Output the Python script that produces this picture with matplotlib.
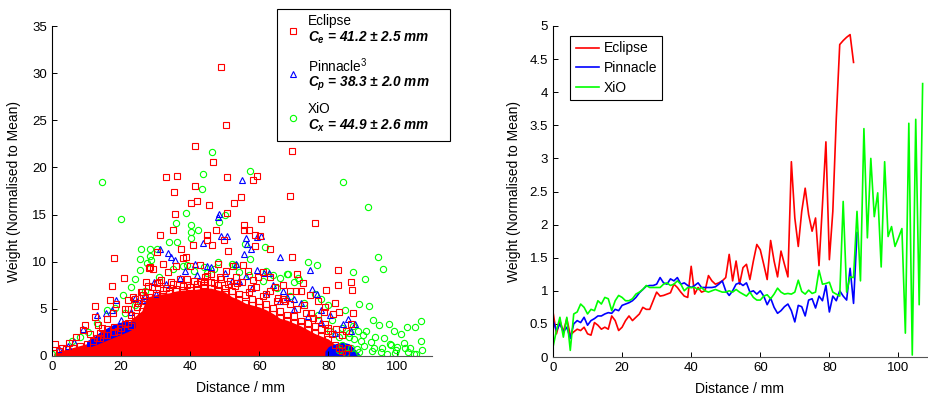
import matplotlib
matplotlib.use("Agg")
import matplotlib.pyplot as plt
from matplotlib.lines import Line2D
from matplotlib.patches import Rectangle

plt.rcParams["font.family"] = ["Liberation Sans", "DejaVu Sans"]
plt.rcParams["mathtext.fontset"] = "custom"
plt.rcParams["mathtext.rm"] = "Liberation Sans"
plt.rcParams["mathtext.it"] = "Liberation Sans:italic:bold"
plt.rcParams["mathtext.bf"] = "Liberation Sans:bold"

# ---------------- left panel: scatter of weights ----------------
# solid red core (upper edge of the dense Eclipse cloud)
red_core_x = [0.5, 2, 4, 6, 8, 10, 12, 14, 16, 18, 20, 22, 24, 26, 27, 28, 30, 32,
              34, 36, 38, 40, 42, 44, 46, 48, 50, 52, 54, 56, 58, 60, 62, 64, 66,
              68, 70, 72, 74, 76, 78, 80, 82, 83, 84, 85]
red_core_top = [0.3, 0.5, 0.7, 0.9, 1.1, 1.3, 1.6, 1.9, 2.2, 2.5, 3.0, 3.5, 4.2, 4.8,
                5.8, 6.3, 6.5, 6.6, 6.7, 6.9, 7.0, 7.0, 7.1, 7.2, 7.2, 7.0, 6.8, 6.3,
                6.0, 5.6, 5.4, 5.2, 4.9, 4.5, 4.0, 3.8, 3.5, 3.2, 2.8, 2.4, 2.1, 1.8,
                1.2, 0.9, 0.5, 0.2]

# dense Pinnacle patches
blue_left_x = [10, 12, 14, 16, 18, 20, 22, 24]
blue_left_lo = [0.9, 1.1, 1.4, 1.7, 2.0, 2.3, 2.6, 3.0]
blue_left_hi = [1.6, 2.0, 2.6, 3.0, 3.4, 3.6, 3.7, 3.6]
blue_right_x = [79, 80, 82, 84, 86, 87, 88, 89]
blue_right_hi = [0.5, 1.0, 1.3, 1.5, 1.3, 1.0, 0.6, 0.2]

red_x = [49.0, 50.5, 41.3, 69.4, 46.7, 33.1, 36.1, 50.7, 59.3, 58.2, 41.5, 35.3, 69.0,
         54.8, 42.1, 40.3, 52.8, 45.4, 35.7, 50.8, 76.0, 60.5, 55.6, 55.7, 35.1, 47.4,
         57.1, 31.2, 44.9, 58.9, 60.1, 44.9, 46.4, 49.7, 58.9, 63.0, 40.7, 37.3, 17.9,
         69.5, 51.0, 38.9, 30.3, 28.3, 29.2, 82.9, 86.6, 86.9, 82.7, 79.4, 71.0, 72.7,
         20.8, 17.4, 12.4, 16.8, 9.0, 0.9, 5.0, 81.9, 87.1, 78.8,
         28.2, 30.3, 32.2, 33.6, 36.0, 37.8, 39.9, 42.8, 44.2, 48.1, 48.6, 50.5, 52.4,
         53.4, 55.3, 56.7, 58.1, 59.6, 61.0, 63.0, 64.5, 66.8, 68.8, 70.7, 72.2, 74.6,
         77.0, 78.9, 81.3, 83.2, 82.3, 85.2, 86.6, 85.6,
         9.5, 12.4, 13.4, 15.8, 17.7, 18.6, 21.1, 22.1, 23.5, 24.5, 26.4, 27.8, 25.9,
         27.3, 7.0, 3.0, 11.0, 14.5, 65.5, 67.5, 73.5, 75.5, 80.0, 84.0, 62.0, 57.5,
         53.5, 44.0, 39.0, 34.5, 31.5, 46.0, 51.5,
         22, 24, 26, 29, 31, 33, 35, 37, 39, 41, 43, 45, 47, 49, 51, 53, 55, 57, 59,
         61, 63, 65, 67, 69, 71, 73, 75, 77, 79,
         23, 25, 27, 30, 32, 34, 36, 38, 40, 42, 44, 46, 48, 50, 52, 54, 56, 58, 60,
         62, 64, 66, 68, 70, 72, 74, 76, 78, 80, 81,
         14, 16, 18, 19, 21, 23, 13, 15]
red_y = [30.6, 24.5, 22.3, 21.7, 20.6, 19.0, 19.1, 19.0, 19.1, 18.7, 18.0, 17.4, 17.0,
         16.9, 16.4, 16.2, 16.2, 16.0, 15.1, 15.2, 14.1, 14.5, 13.9, 13.4, 13.4, 13.4,
         13.4, 12.8, 12.8, 12.8, 12.7, 12.3, 11.8, 12.3, 11.7, 11.3, 11.8, 11.3, 10.4,
         10.5, 11.1, 10.5, 11.0, 9.4, 9.2, 9.1, 7.8, 7.0, 7.5, 7.0, 8.7, 7.7,
         8.3, 7.4, 5.3, 5.9, 2.8, 1.3, 1.4, 5.6, 4.6, 4.7,
         9.3, 7.7, 9.8, 8.9, 9.5, 10.4, 9.5, 9.7, 8.4, 9.8, 8.4, 9.0, 9.5,
         8.4, 9.7, 9.0, 8.1, 8.4, 8.9, 8.4, 7.3, 7.5, 6.9, 6.9, 6.9, 6.5,
         5.8, 5.2, 4.5, 4.7, 2.9, 2.7, 3.4, 0.8,
         3.3, 4.1, 3.3, 3.9, 4.6, 5.5, 5.0, 5.9, 6.3, 5.2, 6.5, 7.4, 6.8,
         7.9, 2.0, 0.9, 2.3, 3.0, 6.2, 5.8, 4.6, 4.0, 3.0, 2.2, 6.6, 7.2,
         7.7, 8.0, 8.2, 7.9, 8.1, 8.7, 8.0,
         5.0, 6.0, 6.8, 7.3, 7.9, 7.2, 7.6, 8.2, 7.5, 8.0, 7.8, 8.5, 7.7, 8.2, 7.6,
         7.4, 7.9, 6.8, 7.3, 6.4, 6.9, 5.8, 6.0, 5.5, 5.0, 5.4, 4.6, 3.8, 3.4,
         4.4, 5.6, 6.1, 6.7, 7.0, 6.9, 7.1, 7.4, 7.3, 7.6, 7.5, 7.9, 7.5, 7.2, 6.9,
         6.6, 6.5, 6.0, 5.8, 5.5, 5.1, 4.8, 4.4, 4.2, 3.7, 3.5, 3.2, 2.9, 2.6, 2.3,
         2.4, 2.9, 3.1, 2.6, 3.4, 3.2, 1.9, 2.2]

blue_x = [55.0, 48.4, 48.1, 48.8, 50.8, 56.3, 59.3, 60.6, 43.7, 31.2, 33.6, 34.4, 35.5,
          56.5, 57.5, 65.9, 41.3, 59.2, 61.4, 62.8, 74.6, 53.4, 55.6, 56.1, 66.9, 75.3,
          76.7, 85.6, 87.6, 9.1, 12.9, 15.5, 17.5, 18.6, 24.0, 2.1, 4.5, 6.5, 84.2,
          86.6, 80.5, 78.0, 72.0, 70.0, 27.0, 29.5, 38.5, 45.0, 52.0, 64.0, 68.0, 82.0,
          20, 23, 26, 30, 33, 37, 42, 46, 50, 54, 58, 62, 66, 70, 74, 78]
blue_y = [18.7, 15.1, 14.7, 12.7, 12.7, 12.5, 12.6, 12.7, 12.0, 11.3, 10.9, 10.5, 10.2,
          11.9, 11.4, 10.5, 9.8, 9.1, 8.8, 8.8, 9.1, 9.8, 10.8, 8.5, 6.9, 7.1,
          6.6, 3.9, 3.4, 2.9, 4.3, 4.6, 4.9, 5.9, 6.2, 0.7, 1.1, 1.5, 3.4,
          2.7, 4.3, 4.9, 5.6, 6.0, 6.4, 7.8, 9.0, 9.5, 8.0, 7.5, 6.3, 2.4,
          3.8, 4.7, 5.9, 6.6, 7.6, 8.3, 8.6, 9.4, 8.8, 8.0, 7.2, 6.6, 5.8, 5.0, 4.2, 3.6]

green_x = [14.5, 19.9, 46.3, 43.7, 57.3, 43.4, 84.2, 91.4, 38.8, 36.0, 40.2, 42.3, 40.2,
           40.2, 48.3, 50.1, 34.0, 36.2, 25.8, 28.5, 28.5, 25.4, 27.5, 55.8, 57.4, 61.6,
           74.2, 76.8, 68.3, 71.2, 87.1, 90.5, 91.9, 89.0, 84.9, 94.5, 95.8, 97.5, 101.1,
           102.7, 105.2, 106.9, 98.9, 94.8, 92.9, 88.6, 90.0, 101.8, 106.7, 107.1, 99.2,
           104.8, 102.1, 97.7, 95.1, 93.1, 92.2, 90.3, 88.4, 0.0, 5.7, 8.1, 10.5, 12.9,
           15.8, 18.2, 20.6, 23.0, 24.0, 25.4, 28.8, 30.3, 38.0, 41.0, 45.0, 47.0, 52.0,
           54.0, 62.0, 64.0, 66.0, 68.0, 70.0, 71.5, 76.0, 78.0, 80.0, 86.0, 87.5, 89.5,
           91.0, 93.5, 96.0, 98.0, 100.0, 103.5, 85.0, 86.5, 89.0, 92.5, 95.5, 97.0,
           99.5, 103.0, 105.5, 84.0, 80.5, 83.0,
           21, 24, 27, 31, 35, 39, 44, 48, 53, 57, 61, 65, 69, 73, 77, 81, 84, 87, 83, 86]
green_y = [18.5, 14.5, 21.6, 19.3, 19.6, 17.7, 18.5, 15.8, 15.2, 14.1, 13.9, 13.4, 13.1,
           12.5, 14.2, 15.0, 12.1, 12.1, 11.3, 11.4, 10.6, 10.3, 9.9, 11.9, 10.3, 11.6,
           10.0, 9.7, 8.7, 8.3, 8.9, 8.2, 5.3, 5.5, 4.9, 10.5, 9.2, 3.4, 2.3,
           3.1, 3.1, 3.7, 2.6, 3.3, 3.8, 2.6, 2.2, 1.4, 1.6, 0.6, 0.3,
           0.2, 0.8, 1.3, 0.4, 0.9, 1.5, 1.1, 0.7, 0.2, 1.6, 2.0, 2.5, 3.5,
           4.9, 5.1, 6.5, 7.3, 8.2, 9.1, 10.2, 11.3, 9.5, 9.0, 8.8, 9.2, 9.8,
           8.9, 9.0, 8.6, 8.3, 8.7, 7.8, 8.1, 6.6, 6.0, 5.4, 2.0, 1.8, 1.6,
           2.6, 2.0, 1.9, 1.2, 1.0, 0.9, 0.3, 0.8, 0.4, 0.5, 0.9, 0.2,
           0.6, 0.4, 0.2, 1.2, 2.6, 0.6,
           4.6, 5.4, 6.9, 8.4, 9.2, 9.6, 9.4, 10.0, 9.6, 8.6, 8.0, 7.2, 6.4, 5.6, 4.4,
           3.8, 3.0, 3.2, 2.0, 2.4]

# ---------------- right panel: mean weight per distance ----------------
ecl_y = [0.68, 0.35, 0.55, 0.38, 0.58, 0.33, 0.38, 0.42, 0.40, 0.45,
         0.35, 0.33, 0.52, 0.48, 0.42, 0.45, 0.42, 0.62, 0.55, 0.40,
         0.45, 0.55, 0.62, 0.55, 0.60, 0.65, 0.75, 0.72, 0.72, 0.85,
         0.98, 0.92, 0.93, 0.95, 0.97, 1.10, 1.05, 0.98, 0.92, 0.90,
         1.37, 0.95, 1.05, 0.98, 1.00, 1.23, 1.15, 1.10, 1.12, 1.15,
         1.20, 1.55, 1.15, 1.45, 1.10, 1.35, 1.40, 1.17, 1.45, 1.70,
         1.62, 1.40, 1.17, 1.76, 1.45, 1.21, 1.60, 1.40, 1.21, 2.95,
         2.10, 1.67, 2.20, 2.55, 2.15, 1.90, 2.10, 1.38, 2.30, 3.25,
         1.47, 2.20, 3.60, 4.72, 4.78, 4.83, 4.87, 4.45]
pin_y = [0.55, 0.40, 0.50, 0.38, 0.45, 0.28, 0.50, 0.55, 0.52, 0.60,
         0.48, 0.55, 0.58, 0.62, 0.62, 0.65, 0.67, 0.66, 0.72, 0.70,
         0.78, 0.80, 0.82, 0.85, 0.90, 0.97, 1.02, 1.07, 1.08, 1.08,
         1.10, 1.20, 1.12, 1.10, 1.18, 1.15, 1.20, 1.10, 1.12, 1.08,
         1.05, 1.08, 1.12, 1.05, 1.05, 1.05, 1.05, 1.06, 1.10, 1.15,
         1.00, 0.93, 1.00, 1.10, 1.12, 1.08, 1.12, 0.98, 1.00, 0.95,
         1.00, 0.92, 0.79, 0.89, 0.75, 0.66, 0.70, 0.76, 0.80, 0.70,
         0.53, 0.78, 0.76, 0.62, 0.86, 0.88, 0.74, 0.92, 0.85, 1.08,
         0.68, 0.92, 0.85, 1.00, 0.92, 0.86, 1.34, 0.81, 1.88]
xio_y = [0.15, 0.40, 0.60, 0.30, 0.60, 0.10, 0.65, 0.68, 0.80, 0.75,
         0.65, 0.72, 0.70, 0.85, 0.80, 0.90, 0.88, 0.70, 0.85, 0.93,
         0.90, 0.85, 0.85, 0.88, 0.95, 0.98, 1.02, 1.08, 1.05, 1.05,
         1.05, 1.05, 1.10, 1.12, 1.08, 1.10, 1.15, 1.10, 1.00, 1.05,
         1.05, 1.05, 1.02, 1.05, 1.00, 0.98, 1.00, 1.02, 1.00, 0.98,
         0.98, 1.00, 0.98, 1.02, 0.98, 0.95, 0.92, 0.98, 0.90, 0.86,
         0.86, 0.92, 0.94, 0.88, 0.95, 1.04, 0.98, 0.95, 0.96, 0.95,
         0.98, 1.16, 0.99, 0.95, 1.01, 0.96, 0.98, 1.31, 1.10, 1.11,
         1.13, 0.98, 0.95, 0.92, 2.35, 0.98, 1.21, 1.20, 2.20, 1.15,
         3.45, 1.80, 3.00, 2.12, 2.48, 1.36, 2.95, 1.82, 1.97, 1.67,
         1.80, 1.94, 0.36, 3.53, 0.03, 3.59, 0.79, 4.13]
ecl_x = list(range(len(ecl_y)))
pin_x = list(range(len(pin_y)))
xio_x = list(range(len(xio_y)))

RED, BLUE, GREEN = "#ff0000", "#0000ff", "#00ff00"
W, H = 929, 399

fig = plt.figure(figsize=(W / 100, H / 100), dpi=100)
ax1 = fig.add_axes([52 / W, 43 / H, 380 / W, 330 / H])
ax2 = fig.add_axes([553 / W, 42 / H, 380 / W, 331 / H])

mk = dict(linestyle="none", markerfacecolor="none", markersize=4.5, markeredgewidth=0.8)
ax1.plot(green_x, green_y, marker="o", color=GREEN, **mk)
ax1.plot(blue_x, blue_y, marker="^", color=BLUE, **mk)
ax1.fill_between(red_core_x, 0, red_core_top, color=RED, linewidth=0)
ax1.plot(red_core_x, red_core_top, marker="s", color=RED, **mk)
ax1.fill_between(blue_left_x, blue_left_lo, blue_left_hi, color=BLUE, linewidth=0)
ax1.fill_between(blue_right_x, 0, blue_right_hi, color=BLUE, linewidth=0)
ax1.plot(red_x, red_y, marker="s", color=RED, **mk)

ax1.set_xlim(0, 110)
ax1.set_ylim(0, 35)
ax1.set_xticks([0, 20, 40, 60, 80, 100])
ax1.set_yticks([0, 5, 10, 15, 20, 25, 30, 35])
ax1.set_xlabel("Distance / mm", fontsize=10)
ax1.set_ylabel("Weight (Normalised to Mean)", fontsize=10)
ax1.yaxis.set_label_coords(-0.082, 0.5)
ax1.xaxis.set_label_coords(0.495, -0.075)

ax2.plot(ecl_x, ecl_y, color=RED, lw=1.2, label="Eclipse")
ax2.plot(pin_x, pin_y, color=BLUE, lw=1.2, label="Pinnacle")
ax2.plot(xio_x, xio_y, color=GREEN, lw=1.2, label="XiO")
ax2.set_xlim(0, 110)
ax2.set_ylim(0, 5)
ax2.set_xticks([0, 20, 40, 60, 80, 100])
ax2.set_yticks([0, 0.5, 1, 1.5, 2, 2.5, 3, 3.5, 4, 4.5, 5])
ax2.set_yticklabels(["0", "0.5", "1", "1.5", "2", "2.5", "3", "3.5", "4", "4.5", "5"])
ax2.set_xlabel("Distance / mm", fontsize=10)
ax2.set_ylabel("Weight (Normalised to Mean)", fontsize=10)
ax2.yaxis.set_label_coords(-0.084, 0.5)
ax2.xaxis.set_label_coords(0.49, -0.075)
leg = ax2.legend(loc="upper left", bbox_to_anchor=(0.045, 0.97), fontsize=10,
                 handlelength=1.7, handletextpad=0.3, labelspacing=0.4,
                 borderpad=0.4, borderaxespad=0, fancybox=False, framealpha=1)
leg.get_frame().set_edgecolor("black")
leg.get_frame().set_linewidth(0.8)

for ax in (ax1, ax2):
    ax.spines["top"].set_visible(False)
    ax.spines["right"].set_visible(False)
    ax.spines["left"].set_linewidth(0.8)
    ax.spines["bottom"].set_linewidth(0.8)
    ax.spines["bottom"].set_color("#555555")
    ax.tick_params(direction="in", length=3.5, width=0.7, labelsize=9.5,
                   top=False, right=False)

# left legend, drawn by hand as in the original
def fx(px):
    return px / W


def fy(py):
    return 1 - py / H


fig.add_artist(Rectangle((fx(277), fy(141)), (450 - 277) / W, (141 - 9) / H,
                         transform=fig.transFigure, facecolor="white",
                         edgecolor="black", linewidth=0.8, zorder=5))
for py, m, c in [(31, "s", RED), (74, "^", BLUE), (118, "o", GREEN)]:
    fig.add_artist(Line2D([fx(293)], [fy(py)], marker=m, color=c, transform=fig.transFigure,
                          zorder=6, **mk))
entries = [(21, "Eclipse", False), (38, "$C_e$ = 41.2 ± 2.5 mm", True),
           (66, "Pinnacle$^3$", False), (84, "$C_p$ = 38.3 ± 2.0 mm", True),
           (109, "XiO", False), (126, "$C_x$ = 44.9 ± 2.6 mm", True)]
for py, txt, ital in entries:
    fig.text(fx(308), fy(py), txt, va="center", ha="left", fontsize=9.8, zorder=7,
             style="italic" if ital else "normal", weight="bold" if ital else "normal")

fig.savefig("out.png", dpi=100)
